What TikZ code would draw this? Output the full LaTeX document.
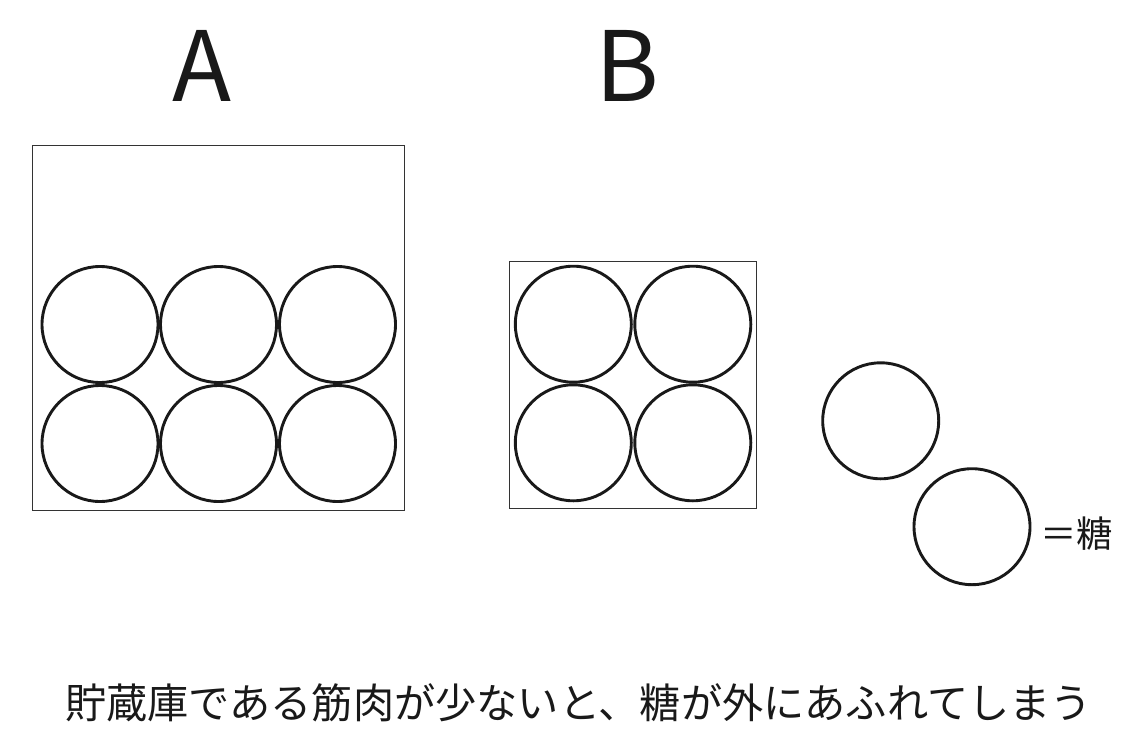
\documentclass[tikz,border=0pt]{standalone}
\usepackage{fontspec}
\newfontfamily\jp{Noto Sans CJK JP}
\begin{document}
\begin{tikzpicture}[x=1pt,y=-1pt,
  sugar/.style={circle,draw=black!90,line width=2.9pt,minimum size=116pt,inner sep=0pt},
  store/.style={rectangle,draw=black!80,line width=0.9pt,inner sep=0pt},
  title/.style={font=\jp\fontsize{97}{97}\selectfont,inner sep=0pt,text=black!90},
  caption/.style={font=\jp\fontsize{41.2}{41.2}\selectfont,inner sep=0pt,text=black!90}]
\useasboundingbox (0,0) rectangle (1140,744);
\fill[white] (0,0) rectangle (1140,744);
% titles
\node[title,anchor=base] (tA) at (201.5,101) {A};
\node[title,anchor=base] (tB) at (627.5,101) {B};
% boxes
\node[store,minimum width=371.5pt,minimum height=365pt] (boxA) at (218.2,327.5) {};
\node[store,minimum width=247.5pt,minimum height=247pt] (boxB) at (632.8,384.6) {};
% circles in A
\node[sugar] (a1) at (100,324.5) {};
\node[sugar] (a2) at (218.5,324.5) {};
\node[sugar] (a3) at (337.5,324.5) {};
\node[sugar] (a4) at (100,443.5) {};
\node[sugar] (a5) at (218.5,443.5) {};
\node[sugar] (a6) at (337.5,443.5) {};
% circles in B
\node[sugar] (b1) at (573.3,324.2) {};
\node[sugar] (b2) at (692.8,324.2) {};
\node[sugar] (b3) at (573.3,442.8) {};
\node[sugar] (b4) at (692.8,442.8) {};
% overflowing sugar
\node[sugar] (f1) at (880.7,420.8) {};
\node[sugar] (f2) at (972,526.7) {};
\node[font=\jp\fontsize{36.5}{36.5}\selectfont,inner sep=0pt,anchor=west,text=black!90] (eq) at (1040,534) {＝糖};
% caption
\node[caption] (cap) at (578.5,703) {貯蔵庫である筋肉が少ないと、糖が外にあふれてしまう};
\end{tikzpicture}
\end{document}
